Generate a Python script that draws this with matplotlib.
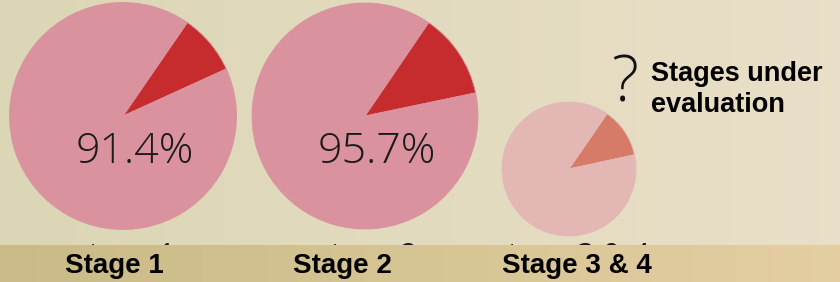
import numpy as np
import matplotlib.pyplot as plt
from matplotlib.patches import Rectangle

# データ
stage_labels = ['Stage 1', 'Stage 2', 'Stage 3 & 4']
ghost_labels = ['stage 1', 'stage 2', 'stage 3 & 4']
pct_labels = ['91.4%', '95.7%', '']
wedge_share = [8.6, 12.2, 12.0]          # red wedge share as drawn (%)
wedge_start = [24.5, 11.8, 12.3]         # start angle of red wedge (deg)
pie_centers = [(123, 166), (365, 166), (569, 113)]
pie_radius = [113.5, 113.0, 67.0]
base_colors = ['#d9929e', '#d9929e', '#e2b7b4']
wedge_colors = ['#c62b2d', '#c62b2d', '#d57b68']
note_text = 'Stages under\nevaluation'

W, H = 840, 282
fig = plt.figure(figsize=(W / 100, H / 100), dpi=100)
ax = fig.add_axes([0, 0, 1, 1])

# 背景グラデーション
band_top = H - 245
xs = np.linspace(0, 1, 200)
top_l = np.array([0.86, 0.84, 0.71]); top_r = np.array([0.915, 0.875, 0.785])
bot_l = np.array([0.79, 0.73, 0.53]); bot_r = np.array([0.895, 0.81, 0.635])
top_img = (top_l[None, :] * (1 - xs[:, None]) + top_r[None, :] * xs[:, None])[None, :, :]
bot_img = (bot_l[None, :] * (1 - xs[:, None]) + bot_r[None, :] * xs[:, None])[None, :, :]
ax.imshow(top_img, extent=[0, W, band_top, H], aspect='auto', zorder=0)
ax.imshow(bot_img, extent=[0, W, 0, band_top], aspect='auto', zorder=5)

clip = Rectangle((0, band_top), W, H - band_top, transform=ax.transData, visible=False)
ax.add_patch(clip)

for i in range(3):
    ax.pie([wedge_share[i], 100 - wedge_share[i]], colors=[wedge_colors[i], base_colors[i]],
           startangle=wedge_start[i], center=pie_centers[i], radius=pie_radius[i],
           wedgeprops=dict(edgecolor=base_colors[i], linewidth=0.6), frame=True)
    cx, cy = pie_centers[i]
    if pct_labels[i]:
        ax.text(cx + 12, cy - 36, pct_labels[i], ha='center', va='center', fontsize=31,
                family='Open Sans', fontweight='light', color='#1a1a1a', zorder=3)
    # label hidden behind band, only the tips show
    t = ax.text(cx + 2, H - 265, ghost_labels[i], ha='center', va='baseline', fontsize=22,
                family='Open Sans', color='#1a1a1a', zorder=2)
    t.set_clip_path(clip)

label_x = [114, 342, 577]
for x, lab in zip(label_x, stage_labels):
    ax.text(x, H - 273, lab, ha='center', va='baseline', fontsize=20,
            family='Liberation Sans', fontweight='bold', color='black', zorder=6)

ax.text(625, H - 102, '?', ha='center', va='baseline', fontsize=46,
        family='Open Sans', fontweight='light', color='#111111', zorder=3)
ax.text(651, H - 112, note_text, ha='left', va='baseline', fontsize=19.5,
        family='Liberation Sans', fontweight='bold', color='black',
        linespacing=1.25, zorder=3)

ax.set_xlim(0, W)
ax.set_ylim(0, H)
ax.set_aspect('auto')
ax.axis('off')

fig.savefig('out.png', dpi=100)
